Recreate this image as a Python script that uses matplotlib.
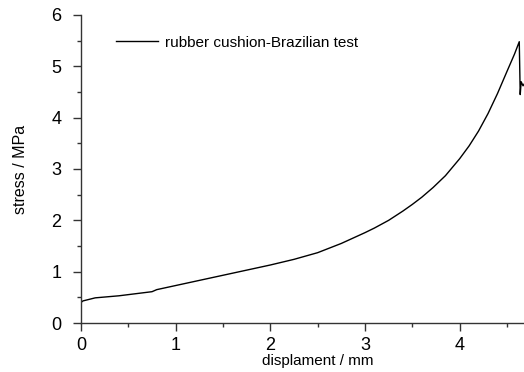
import numpy as np
import matplotlib.pyplot as plt
from matplotlib.ticker import MultipleLocator

plt.rcParams['font.family'] = ['Liberation Sans', 'DejaVu Sans']

# values
disp = [0.0, 0.02, 0.15, 0.4, 0.75, 0.8, 1.0, 1.25, 1.5, 1.75, 2.0, 2.25, 2.5, 2.75,
        3.0, 3.1, 3.25, 3.4, 3.5, 3.6, 3.72, 3.85, 4.0, 4.1, 4.2, 4.3, 4.4, 4.5,
        4.58, 4.63, 4.64, 4.65, 4.67, 4.69]
stress = [0.40, 0.43, 0.49, 0.53, 0.61, 0.65, 0.73, 0.83, 0.93, 1.03, 1.13, 1.24, 1.37, 1.55,
          1.76, 1.85, 2.00, 2.18, 2.31, 2.45, 2.64, 2.87, 3.20, 3.45, 3.74, 4.08, 4.47, 4.90,
          5.24, 5.48, 4.45, 4.70, 4.62, 4.68]

fig = plt.figure(figsize=(5.24, 3.72), dpi=100)
ax = fig.add_axes([0.1546, 0.1317, 0.8454, 0.828])

ax.plot(disp, stress, color='black', lw=1.0, label='rubber cushion-Brazilian test')

ax.set_xlim(0, 4.68)
ax.set_ylim(0, 6)
ax.xaxis.set_major_locator(MultipleLocator(1))
ax.xaxis.set_minor_locator(MultipleLocator(0.5))
ax.yaxis.set_major_locator(MultipleLocator(1))
ax.yaxis.set_minor_locator(MultipleLocator(0.5))

for s in ['top', 'right']:
    ax.spines[s].set_visible(False)
for s in ['left', 'bottom']:
    ax.spines[s].set_color('#333333')
    ax.spines[s].set_linewidth(1.0)

ax.tick_params(which='major', direction='out', length=6, width=1.0, labelsize=13, color='#333333')
ax.tick_params(which='minor', direction='out', length=3, width=1.0, color='#333333')
ax.tick_params(axis='x', pad=4)
ax.tick_params(axis='y', pad=8)

ax.set_xlabel('displament / mm', fontsize=11)
ax.xaxis.set_label_coords(0.535, -0.1)
ax.set_ylabel('stress / MPa', fontsize=11.5)
ax.yaxis.set_label_coords(-0.12, 0.5)

ax.legend(loc='center left', bbox_to_anchor=(0.08, 0.91), frameon=False, fontsize=11,
          handlelength=2.7, handletextpad=0.5, borderpad=0, borderaxespad=0)

fig.savefig('out.png', dpi=100)
